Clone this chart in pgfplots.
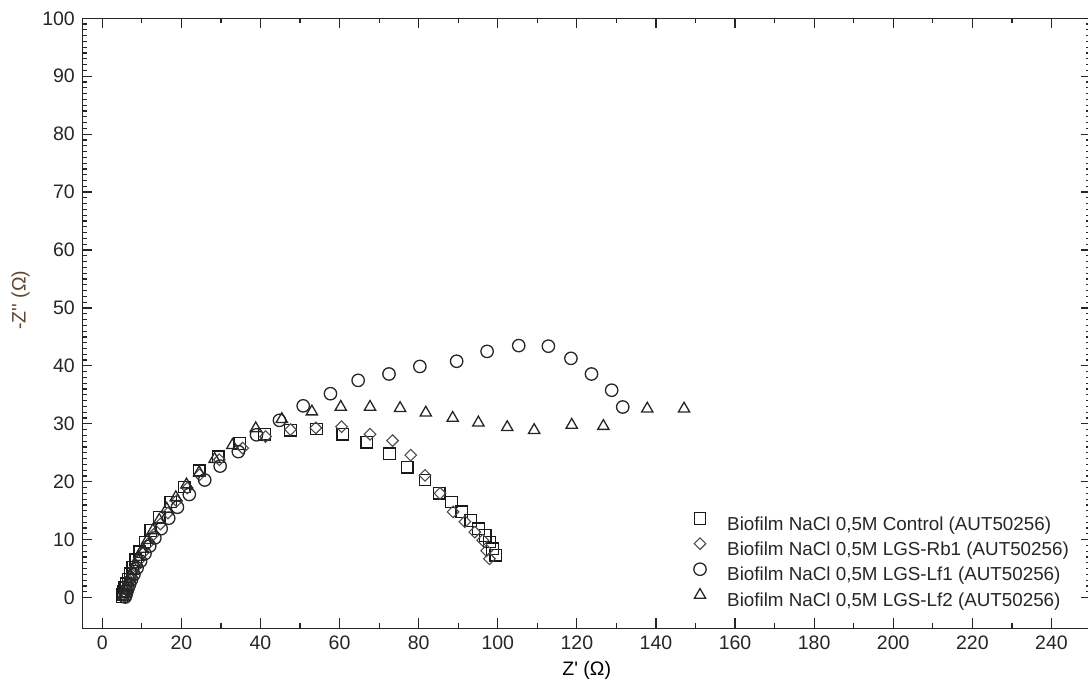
\documentclass[border=0pt]{standalone}
\usepackage{fontspec}
\setmainfont{Liberation Sans}
\usepackage{pgfplots}
\pgfplotsset{compat=1.18}
\definecolor{ylab}{RGB}{95,70,45}
\newcommand\ap{\XeTeXglyph\XeTeXcharglyph"0027\relax}
\begin{document}
\fontsize{19.5}{23}\selectfont
\begin{tikzpicture}
\begin{axis}[
  scale only axis,
  width=1008.5pt, height=610pt,
  xmin=-5, xmax=250, ymin=-5.3, ymax=100,
  xtick={0,20,...,240}, ytick={0,10,...,100},
  minor x tick num=1, minor y tick num=9,
  tick align=inside, tickpos=both,
  major tick length=10pt, minor tick length=5pt,
  axis line style={line width=1.3pt, black!85},
  every tick/.style={line width=1.2pt, black!85},
  /pgf/number format/assume math mode=true,
  ticklabel style={font=\fontsize{19.5}{23}\selectfont, text=black!85},
  xticklabel style={yshift=-1pt},
  yticklabel style={xshift=-1pt},
  xlabel={Z\ap{} (Ω)}, ylabel={-Z\ap\ap{} (Ω)},
  xlabel style={font=\fontsize{19.5}{23}\selectfont, at={(rel axis cs:0.5,0)}, anchor=center, yshift=-42pt},
  ylabel style={font=\fontsize{19.5}{23}\selectfont, text=ylab, at={([xshift=-62pt]rel axis cs:0,0.538)}, anchor=center},
  legend style={draw=none, fill=none, inner sep=0pt, at={([xshift=3pt,yshift=-5pt]rel axis cs:0.6,0.198)}, anchor=north west,
    font=\fontsize{18.8}{22}\selectfont, row sep=0.4pt, column sep=0pt,
    nodes={inner sep=2pt, text height=14.5pt, text depth=5.4pt, text=black!85}},
  legend cell align=left,
  legend image code/.code={\draw[#1] plot coordinates {(9pt,7pt)} ; \path (0pt,7pt) (34pt,7pt);},
]
\coordinate (SW) at (rel axis cs:0,0);
\coordinate (NE) at (rel axis cs:1,1);
% Control
\addplot[only marks, mark=square, mark size=5.8pt, mark options={line width=1.3pt, draw=black!90}] coordinates {
(5.0,0.2)(5.2,0.6)(5.4,1.1)(5.7,1.7)(6.0,2.4)(6.5,3.2)(7.0,4.1)(7.7,5.2)(8.5,6.5)(9.5,7.9)(10.8,9.6)(12.3,11.6)(14.4,13.9)(17.3,16.5)(20.7,19.1)(24.5,21.9)(29.3,24.3)(34.8,26.6)(41.0,28.2)(47.6,28.9)(54.2,29.1)(60.8,28.2)(66.9,26.8)(72.6,24.8)(77.1,22.5)(81.6,20.3)(85.2,18.0)(88.3,16.5)(90.9,14.8)(93.2,13.3)(95.1,11.9)(96.8,10.7)(97.9,9.6)(98.7,8.4)(99.5,7.3)
};
\addlegendentry{Biofilm NaCl 0,5M Control (AUT50256)}
% LGS-Rb1
\addplot[only marks, mark=square, mark size=4.1pt, mark options={rotate=45, line width=1.1pt, draw=black!70}] coordinates {
(5.6,0.2)(5.8,0.7)(6.0,1.3)(6.3,1.9)(6.7,2.6)(7.2,3.4)(7.8,4.3)(8.5,5.3)(9.4,6.5)(10.4,7.8)(11.6,9.3)(13.0,10.9)(14.7,12.7)(16.6,14.6)(18.8,16.7)(21.5,18.9)(24.6,21.2)(29.6,23.8)(35.5,25.8)(41.3,27.8)(47.6,29.0)(54.0,29.3)(60.5,29.5)(67.7,28.2)(73.4,27.1)(78.0,24.6)(81.6,21.1)(85.4,18.0)(88.7,14.8)(91.7,13.1)(94.2,11.3)(96.2,9.9)(97.2,8.1)(97.9,6.7)
};
\addlegendentry{Biofilm NaCl 0,5M LGS-Rb1 (AUT50256)}
% LGS-Lf1
\addplot[only marks, mark=o, mark size=6.2pt, mark options={line width=1.3pt, draw=black!85}] coordinates {
(5.8,0.1)(6.0,0.5)(6.2,1.0)(6.5,1.6)(6.9,2.3)(7.4,3.1)(8.0,4.0)(8.8,5.1)(9.7,6.3)(10.8,7.6)(12.0,8.9)(13.3,10.3)(14.9,11.9)(16.8,13.7)(19.0,15.6)(22.0,17.8)(25.9,20.3)(29.8,22.7)(34.4,25.2)(39.0,28.1)(44.8,30.6)(50.8,33.1)(57.7,35.2)(64.7,37.5)(72.5,38.6)(80.3,39.9)(89.6,40.8)(97.3,42.5)(105.3,43.5)(112.8,43.4)(118.5,41.3)(123.7,38.6)(128.8,35.8)(131.6,32.9)
};
\addlegendentry{Biofilm NaCl 0,5M LGS-Lf1 (AUT50256)}
% LGS-Lf2
\addplot[only marks, mark=triangle, mark size=6.5pt, mark options={line width=1.3pt, draw=black!85}] coordinates {
(5.4,0.1)(5.6,0.6)(5.8,1.2)(6.1,1.9)(6.5,2.7)(7.0,3.6)(7.6,4.6)(8.3,5.7)(9.2,7.0)(10.2,8.4)(11.4,9.9)(12.8,11.6)(14.4,13.4)(16.3,15.3)(18.6,17.3)(21.3,19.5)(24.5,21.6)(28.4,23.9)(32.9,26.3)(38.8,29.2)(45.4,30.8)(53.0,32.1)(60.3,32.9)(67.7,32.9)(75.3,32.7)(81.8,31.9)(88.6,31.0)(95.1,30.2)(102.4,29.4)(109.2,28.9)(118.7,29.8)(126.7,29.6)(137.8,32.6)(147.1,32.6)
};
\addlegendentry{Biofilm NaCl 0,5M LGS-Lf2 (AUT50256)}
\end{axis}
\pgfresetboundingbox
\path[use as bounding box] ([xshift=-82.5pt,yshift=-52.7pt]SW) rectangle ([xshift=-3pt,yshift=18.3pt]NE);
\end{tikzpicture}
\end{document}
